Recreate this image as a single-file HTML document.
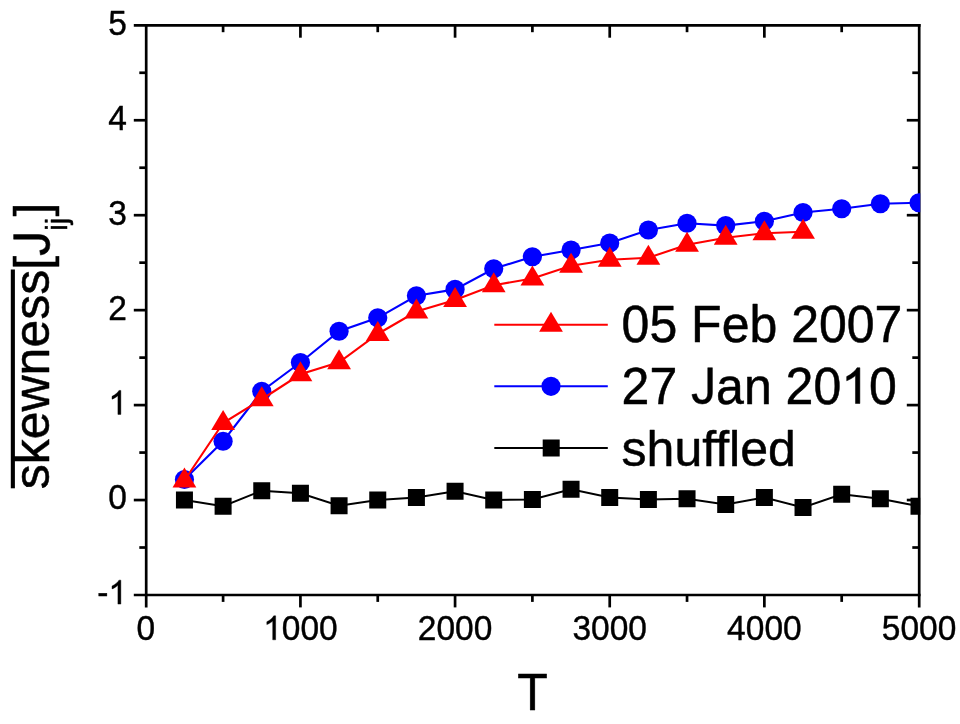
<!DOCTYPE html>
<html><head><meta charset="utf-8"><title>skewness</title>
<style>html,body{margin:0;padding:0;background:#fff;}body{width:960px;height:724px;overflow:hidden;}svg{display:block;will-change:transform;}text{font-family:"Liberation Sans",sans-serif;fill:#000;stroke:#000;stroke-linejoin:round;}.h{fill:none;stroke:none;}</style></head><body>
<svg width="960" height="724" viewBox="0 0 960 724">
<rect x="0" y="0" width="960" height="724" fill="#fff"/>
<defs><clipPath id="c"><rect x="146.2" y="25.3" width="774.00" height="569.7"/></clipPath></defs>
<g stroke="#000" stroke-width="2.7" fill="none" stroke-linecap="butt">
<line x1="133.79999999999998" y1="25.3" x2="920.5500000000001" y2="25.3"/>
<line x1="133.79999999999998" y1="595.0" x2="920.5500000000001" y2="595.0"/>
<line x1="146.2" y1="23.95" x2="146.2" y2="607.4"/>
<line x1="919.2" y1="23.95" x2="919.2" y2="607.4"/>
<line x1="223.10" y1="595.0" x2="223.10" y2="601.9"/>
<line x1="223.10" y1="25.3" x2="223.10" y2="32.2"/>
<line x1="300.42" y1="595.0" x2="300.42" y2="607.4"/>
<line x1="300.42" y1="25.3" x2="300.42" y2="37.7"/>
<line x1="377.75" y1="595.0" x2="377.75" y2="601.9"/>
<line x1="377.75" y1="25.3" x2="377.75" y2="32.2"/>
<line x1="455.07" y1="595.0" x2="455.07" y2="607.4"/>
<line x1="455.07" y1="25.3" x2="455.07" y2="37.7"/>
<line x1="532.39" y1="595.0" x2="532.39" y2="601.9"/>
<line x1="532.39" y1="25.3" x2="532.39" y2="32.2"/>
<line x1="609.72" y1="595.0" x2="609.72" y2="607.4"/>
<line x1="609.72" y1="25.3" x2="609.72" y2="37.7"/>
<line x1="687.04" y1="595.0" x2="687.04" y2="601.9"/>
<line x1="687.04" y1="25.3" x2="687.04" y2="32.2"/>
<line x1="764.37" y1="595.0" x2="764.37" y2="607.4"/>
<line x1="764.37" y1="25.3" x2="764.37" y2="37.7"/>
<line x1="841.69" y1="595.0" x2="841.69" y2="601.9"/>
<line x1="841.69" y1="25.3" x2="841.69" y2="32.2"/>
<line x1="139.29999999999998" y1="547.52" x2="146.2" y2="547.52"/>
<line x1="912.3000000000001" y1="547.52" x2="919.2" y2="547.52"/>
<line x1="133.79999999999998" y1="500.05" x2="146.2" y2="500.05"/>
<line x1="906.8000000000001" y1="500.05" x2="919.2" y2="500.05"/>
<line x1="139.29999999999998" y1="452.57" x2="146.2" y2="452.57"/>
<line x1="912.3000000000001" y1="452.57" x2="919.2" y2="452.57"/>
<line x1="133.79999999999998" y1="405.10" x2="146.2" y2="405.10"/>
<line x1="906.8000000000001" y1="405.10" x2="919.2" y2="405.10"/>
<line x1="139.29999999999998" y1="357.62" x2="146.2" y2="357.62"/>
<line x1="912.3000000000001" y1="357.62" x2="919.2" y2="357.62"/>
<line x1="133.79999999999998" y1="310.15" x2="146.2" y2="310.15"/>
<line x1="906.8000000000001" y1="310.15" x2="919.2" y2="310.15"/>
<line x1="139.29999999999998" y1="262.67" x2="146.2" y2="262.67"/>
<line x1="912.3000000000001" y1="262.67" x2="919.2" y2="262.67"/>
<line x1="133.79999999999998" y1="215.20" x2="146.2" y2="215.20"/>
<line x1="906.8000000000001" y1="215.20" x2="919.2" y2="215.20"/>
<line x1="139.29999999999998" y1="167.72" x2="146.2" y2="167.72"/>
<line x1="912.3000000000001" y1="167.72" x2="919.2" y2="167.72"/>
<line x1="133.79999999999998" y1="120.25" x2="146.2" y2="120.25"/>
<line x1="906.8000000000001" y1="120.25" x2="919.2" y2="120.25"/>
<line x1="139.29999999999998" y1="72.77" x2="146.2" y2="72.77"/>
<line x1="912.3000000000001" y1="72.77" x2="919.2" y2="72.77"/>
</g>
<g clip-path="url(#c)">
<polyline points="184.44,500.00 223.10,506.25 261.76,490.75 300.42,493.25 339.08,505.75 377.75,500.00 416.41,497.50 455.07,491.25 493.73,500.00 532.39,499.50 571.06,489.25 609.72,497.50 648.38,499.50 687.04,498.75 725.70,504.50 764.37,497.50 803.03,507.50 841.69,494.25 880.35,498.75 919.01,506.25" fill="none" stroke="#000" stroke-width="1.9"/>
<rect x="175.94" y="491.50" width="17.0" height="17.0" fill="#000"/>
<rect x="214.60" y="497.75" width="17.0" height="17.0" fill="#000"/>
<rect x="253.26" y="482.25" width="17.0" height="17.0" fill="#000"/>
<rect x="291.92" y="484.75" width="17.0" height="17.0" fill="#000"/>
<rect x="330.58" y="497.25" width="17.0" height="17.0" fill="#000"/>
<rect x="369.25" y="491.50" width="17.0" height="17.0" fill="#000"/>
<rect x="407.91" y="489.00" width="17.0" height="17.0" fill="#000"/>
<rect x="446.57" y="482.75" width="17.0" height="17.0" fill="#000"/>
<rect x="485.23" y="491.50" width="17.0" height="17.0" fill="#000"/>
<rect x="523.89" y="491.00" width="17.0" height="17.0" fill="#000"/>
<rect x="562.56" y="480.75" width="17.0" height="17.0" fill="#000"/>
<rect x="601.22" y="489.00" width="17.0" height="17.0" fill="#000"/>
<rect x="639.88" y="491.00" width="17.0" height="17.0" fill="#000"/>
<rect x="678.54" y="490.25" width="17.0" height="17.0" fill="#000"/>
<rect x="717.20" y="496.00" width="17.0" height="17.0" fill="#000"/>
<rect x="755.87" y="489.00" width="17.0" height="17.0" fill="#000"/>
<rect x="794.53" y="499.00" width="17.0" height="17.0" fill="#000"/>
<rect x="833.19" y="485.75" width="17.0" height="17.0" fill="#000"/>
<rect x="871.85" y="490.25" width="17.0" height="17.0" fill="#000"/>
<rect x="910.51" y="497.75" width="17.0" height="17.0" fill="#000"/>
<polyline points="184.44,479.50 223.10,441.25 261.76,391.25 300.42,362.50 339.08,331.25 377.75,317.80 416.41,295.80 455.07,289.40 493.73,268.75 532.39,256.75 571.06,250.00 609.72,243.00 648.38,230.00 687.04,223.25 725.70,225.60 764.37,221.25 803.03,212.50 841.69,208.75 880.35,203.75 919.01,202.75" fill="none" stroke="#0000ff" stroke-width="2.1"/>
<circle cx="184.44" cy="479.50" r="9.6" fill="#0000ff"/>
<circle cx="223.10" cy="441.25" r="9.6" fill="#0000ff"/>
<circle cx="261.76" cy="391.25" r="9.6" fill="#0000ff"/>
<circle cx="300.42" cy="362.50" r="9.6" fill="#0000ff"/>
<circle cx="339.08" cy="331.25" r="9.6" fill="#0000ff"/>
<circle cx="377.75" cy="317.80" r="9.6" fill="#0000ff"/>
<circle cx="416.41" cy="295.80" r="9.6" fill="#0000ff"/>
<circle cx="455.07" cy="289.40" r="9.6" fill="#0000ff"/>
<circle cx="493.73" cy="268.75" r="9.6" fill="#0000ff"/>
<circle cx="532.39" cy="256.75" r="9.6" fill="#0000ff"/>
<circle cx="571.06" cy="250.00" r="9.6" fill="#0000ff"/>
<circle cx="609.72" cy="243.00" r="9.6" fill="#0000ff"/>
<circle cx="648.38" cy="230.00" r="9.6" fill="#0000ff"/>
<circle cx="687.04" cy="223.25" r="9.6" fill="#0000ff"/>
<circle cx="725.70" cy="225.60" r="9.6" fill="#0000ff"/>
<circle cx="764.37" cy="221.25" r="9.6" fill="#0000ff"/>
<circle cx="803.03" cy="212.50" r="9.6" fill="#0000ff"/>
<circle cx="841.69" cy="208.75" r="9.6" fill="#0000ff"/>
<circle cx="880.35" cy="203.75" r="9.6" fill="#0000ff"/>
<circle cx="919.01" cy="202.75" r="9.6" fill="#0000ff"/>
<polyline points="184.44,480.50 223.10,423.00 261.76,399.25 300.42,374.25 339.08,362.25 377.75,334.00 416.41,311.50 455.07,300.00 493.73,285.25 532.39,278.50 571.06,265.75 609.72,259.75 648.38,257.75 687.04,244.75 725.70,237.75 764.37,233.25 803.03,231.75" fill="none" stroke="#ff0000" stroke-width="2.1"/>
<polygon points="184.44,467.40 172.54,487.50 196.34,487.50" fill="#ff0000"/>
<polygon points="223.10,409.90 211.20,430.00 235.00,430.00" fill="#ff0000"/>
<polygon points="261.76,386.15 249.86,406.25 273.66,406.25" fill="#ff0000"/>
<polygon points="300.42,361.15 288.52,381.25 312.32,381.25" fill="#ff0000"/>
<polygon points="339.08,349.15 327.18,369.25 350.98,369.25" fill="#ff0000"/>
<polygon points="377.75,320.90 365.85,341.00 389.65,341.00" fill="#ff0000"/>
<polygon points="416.41,298.40 404.51,318.50 428.31,318.50" fill="#ff0000"/>
<polygon points="455.07,286.90 443.17,307.00 466.97,307.00" fill="#ff0000"/>
<polygon points="493.73,272.15 481.83,292.25 505.63,292.25" fill="#ff0000"/>
<polygon points="532.39,265.40 520.49,285.50 544.29,285.50" fill="#ff0000"/>
<polygon points="571.06,252.65 559.16,272.75 582.96,272.75" fill="#ff0000"/>
<polygon points="609.72,246.65 597.82,266.75 621.62,266.75" fill="#ff0000"/>
<polygon points="648.38,244.65 636.48,264.75 660.28,264.75" fill="#ff0000"/>
<polygon points="687.04,231.65 675.14,251.75 698.94,251.75" fill="#ff0000"/>
<polygon points="725.70,224.65 713.80,244.75 737.60,244.75" fill="#ff0000"/>
<polygon points="764.37,220.15 752.47,240.25 776.27,240.25" fill="#ff0000"/>
<polygon points="803.03,218.65 791.13,238.75 814.93,238.75" fill="#ff0000"/>
</g>
<g transform="translate(145.77,639.80) scale(1,1.03)"><text id="t0" x="0" y="0" font-size="33.5" text-anchor="middle" stroke-width="0.4">0</text></g>
<g transform="translate(300.42,639.80) scale(1,1.03)"><text id="t1" x="0" y="0" font-size="33.5" text-anchor="middle" stroke-width="0.4"><tspan class="h">1</tspan>000</text><path d="M764,0 L584,0 L584,1102 Q519,1043 413,983 Q308,924 224,894 L224,1061 Q375,1129 488,1226 Q601,1323 648,1409 L764,1409 Z" transform="translate(-37.265,0.000) scale(0.016357,-0.016516)" fill="#000" stroke="#000" stroke-width="24.5" stroke-linejoin="round"/></g>
<g transform="translate(455.07,639.80) scale(1,1.03)"><text id="t2" x="0" y="0" font-size="33.5" text-anchor="middle" stroke-width="0.4">2000</text></g>
<g transform="translate(609.72,639.80) scale(1,1.03)"><text id="t3" x="0" y="0" font-size="33.5" text-anchor="middle" stroke-width="0.4">3000</text></g>
<g transform="translate(764.37,639.80) scale(1,1.03)"><text id="t4" x="0" y="0" font-size="33.5" text-anchor="middle" stroke-width="0.4">4000</text></g>
<g transform="translate(919.01,639.80) scale(1,1.03)"><text id="t5" x="0" y="0" font-size="33.5" text-anchor="middle" stroke-width="0.4">5000</text></g>
<g transform="translate(127.00,604.10) scale(1,1.03)"><text id="t6" x="0" y="0" font-size="33.5" text-anchor="end" stroke-width="0.4">-<tspan class="h">1</tspan></text><path d="M764,0 L584,0 L584,1102 Q519,1043 413,983 Q308,924 224,894 L224,1061 Q375,1129 488,1226 Q601,1323 648,1409 L764,1409 Z" transform="translate(-18.640,0.000) scale(0.016357,-0.016516)" fill="#000" stroke="#000" stroke-width="24.5" stroke-linejoin="round"/></g>
<g transform="translate(127.00,509.25) scale(1,1.03)"><text id="t7" x="0" y="0" font-size="33.5" text-anchor="end" stroke-width="0.4">0</text></g>
<g transform="translate(127.00,414.40) scale(1,1.03)"><text id="t8" x="0" y="0" font-size="33.5" text-anchor="end" stroke-width="0.4"><tspan class="h">1</tspan></text><path d="M764,0 L584,0 L584,1102 Q519,1043 413,983 Q308,924 224,894 L224,1061 Q375,1129 488,1226 Q601,1323 648,1409 L764,1409 Z" transform="translate(-18.640,0.000) scale(0.016357,-0.016516)" fill="#000" stroke="#000" stroke-width="24.5" stroke-linejoin="round"/></g>
<g transform="translate(127.00,319.55) scale(1,1.03)"><text id="t9" x="0" y="0" font-size="33.5" text-anchor="end" stroke-width="0.4">2</text></g>
<g transform="translate(127.00,224.70) scale(1,1.03)"><text id="t10" x="0" y="0" font-size="33.5" text-anchor="end" stroke-width="0.4">3</text></g>
<g transform="translate(127.00,129.85) scale(1,1.03)"><text id="t11" x="0" y="0" font-size="33.5" text-anchor="end" stroke-width="0.4">4</text></g>
<g transform="translate(127.00,35.00) scale(1,1.03)"><text id="t12" x="0" y="0" font-size="33.5" text-anchor="end" stroke-width="0.4">5</text></g>
<g transform="translate(532.60,710.20) scale(1,1.04)"><text id="t13" x="0" y="0" font-size="50" text-anchor="middle" stroke-width="0.5">T</text></g>
<g transform="translate(49.40,489.30) rotate(-90) scale(1,1.0)"><text id="t14" x="0" y="0" font-size="50" text-anchor="start" stroke-width="0.5">skewness[<tspan class="h">J</tspan><tspan font-size="29.5" dy="17.2">ij</tspan><tspan dy="-17.2" dx="1.2">]</tspan></text><path d="M457,-20 Q99,-20 32,350 L219,381 Q237,265 300,200 Q363,135 458,135 Q562,135 622,206.5 Q682,278 682,416 L682,1409 L872,1409 L872,420 Q872,215 761,97.5 Q650,-20 457,-20 Z" transform="translate(233.438,0.000) scale(0.024414,-0.025391)" fill="#000" stroke="#000" stroke-width="20.5" stroke-linejoin="round"/><rect x="1" y="-38.6" width="218.8" height="4.1" fill="#000"/></g>
<line x1="494.3" y1="324.8" x2="607.8" y2="324.8" stroke="#ff0000" stroke-width="2.1"/>
<polygon points="551.00,311.70 539.10,331.80 562.90,331.80" fill="#ff0000"/>
<g transform="translate(621.60,342.00) scale(1,1.03)"><text id="t15" x="0" y="0" font-size="50" text-anchor="start" stroke-width="0.5">05 Feb 2007</text></g>
<line x1="494.3" y1="386.3" x2="607.8" y2="386.3" stroke="#0000ff" stroke-width="2.1"/>
<circle cx="551.00" cy="386.30" r="9.6" fill="#0000ff"/>
<g transform="translate(621.60,403.50) scale(1,1.03)"><text id="t16" x="0" y="0" font-size="50" text-anchor="start" stroke-width="0.5">27 <tspan class="h">J</tspan>an 20<tspan class="h">1</tspan>0</text><path d="M457,-20 Q99,-20 32,350 L219,381 Q237,265 300,200 Q363,135 458,135 Q562,135 622,206.5 Q682,278 682,416 L682,1409 L872,1409 L872,420 Q872,215 761,97.5 Q650,-20 457,-20 Z" transform="translate(69.512,0.000) scale(0.024414,-0.024651)" fill="#000" stroke="#000" stroke-width="20.5" stroke-linejoin="round"/><path d="M764,0 L584,0 L584,1102 Q519,1043 413,983 Q308,924 224,894 L224,1061 Q375,1129 488,1226 Q601,1323 648,1409 L764,1409 Z" transform="translate(219.619,0.000) scale(0.024414,-0.024651)" fill="#000" stroke="#000" stroke-width="20.5" stroke-linejoin="round"/></g>
<line x1="494.3" y1="448.0" x2="607.8" y2="448.0" stroke="#000" stroke-width="1.9"/>
<rect x="542.70" y="439.50" width="17.0" height="17.0" fill="#000"/>
<g transform="translate(621.60,465.50) scale(1,1.0)"><text id="t17" x="0" y="0" font-size="50" text-anchor="start" stroke-width="0.5">shuffled</text></g>
</svg></body></html>
